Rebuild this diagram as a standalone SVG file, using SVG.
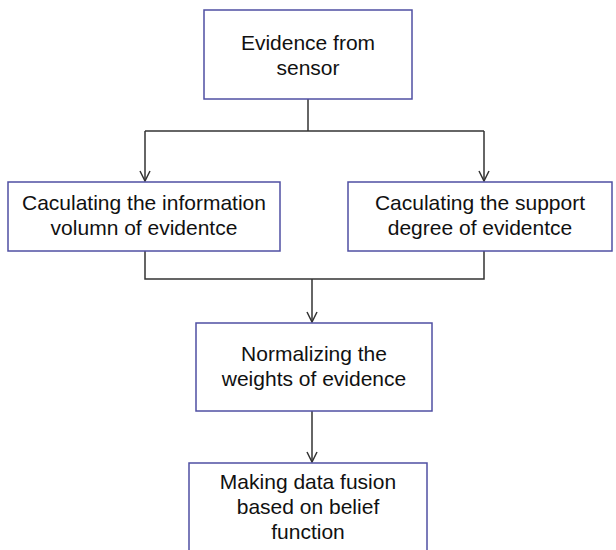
<svg xmlns="http://www.w3.org/2000/svg" width="616" height="550" viewBox="0 0 616 550">
<defs>
<style>
.box{fill:#fff;stroke:#4f4fa3;stroke-width:1.5}
.t{font-family:"Liberation Sans",Arial,sans-serif;font-size:21px;fill:#111;text-anchor:middle}
.c{fill:none;stroke:#333;stroke-width:1.5}
</style>
<marker id="arr" viewBox="0 0 12 12" refX="11" refY="6" markerWidth="12" markerHeight="12" markerUnits="userSpaceOnUse" orient="auto">
<path d="M1,1 L11,6 L1,11" fill="none" stroke="#333" stroke-width="1.5"/>
</marker>
</defs>
<rect width="616" height="550" fill="#fff"/>
<g id="connectors">
<path class="c" d="M308,99 V131"/>
<path class="c" d="M145,131 H484"/>
<path class="c" d="M145,131 V181" marker-end="url(#arr)"/>
<path class="c" d="M484,131 V181" marker-end="url(#arr)"/>
<path class="c" d="M145,251 V279 H484 V251"/>
<path class="c" d="M312,279 V322" marker-end="url(#arr)"/>
<path class="c" d="M312,411 V462" marker-end="url(#arr)"/>
</g>
<g id="n1">
<rect class="box" x="204" y="10" width="208" height="89"/>
<text class="t" x="308" y="50">Evidence from</text>
<text class="t" x="308" y="75">sensor</text>
</g>
<g id="n2">
<rect class="box" x="8" y="182" width="272" height="69"/>
<text class="t" x="144" y="210">Caculating the information</text>
<text class="t" x="144" y="235">volumn of evidentce</text>
</g>
<g id="n3">
<rect class="box" x="348" y="182" width="264" height="69"/>
<text class="t" x="480" y="210">Caculating the support</text>
<text class="t" x="480" y="235">degree of evidentce</text>
</g>
<g id="n4">
<rect class="box" x="196" y="323" width="236" height="88"/>
<text class="t" x="314" y="361">Normalizing the</text>
<text class="t" x="314" y="386">weights of evidence</text>
</g>
<g id="n5">
<rect class="box" x="189" y="463" width="238" height="95"/>
<text class="t" x="308" y="489">Making data fusion</text>
<text class="t" x="308" y="514">based on belief</text>
<text class="t" x="308" y="539">function</text>
</g>
</svg>
